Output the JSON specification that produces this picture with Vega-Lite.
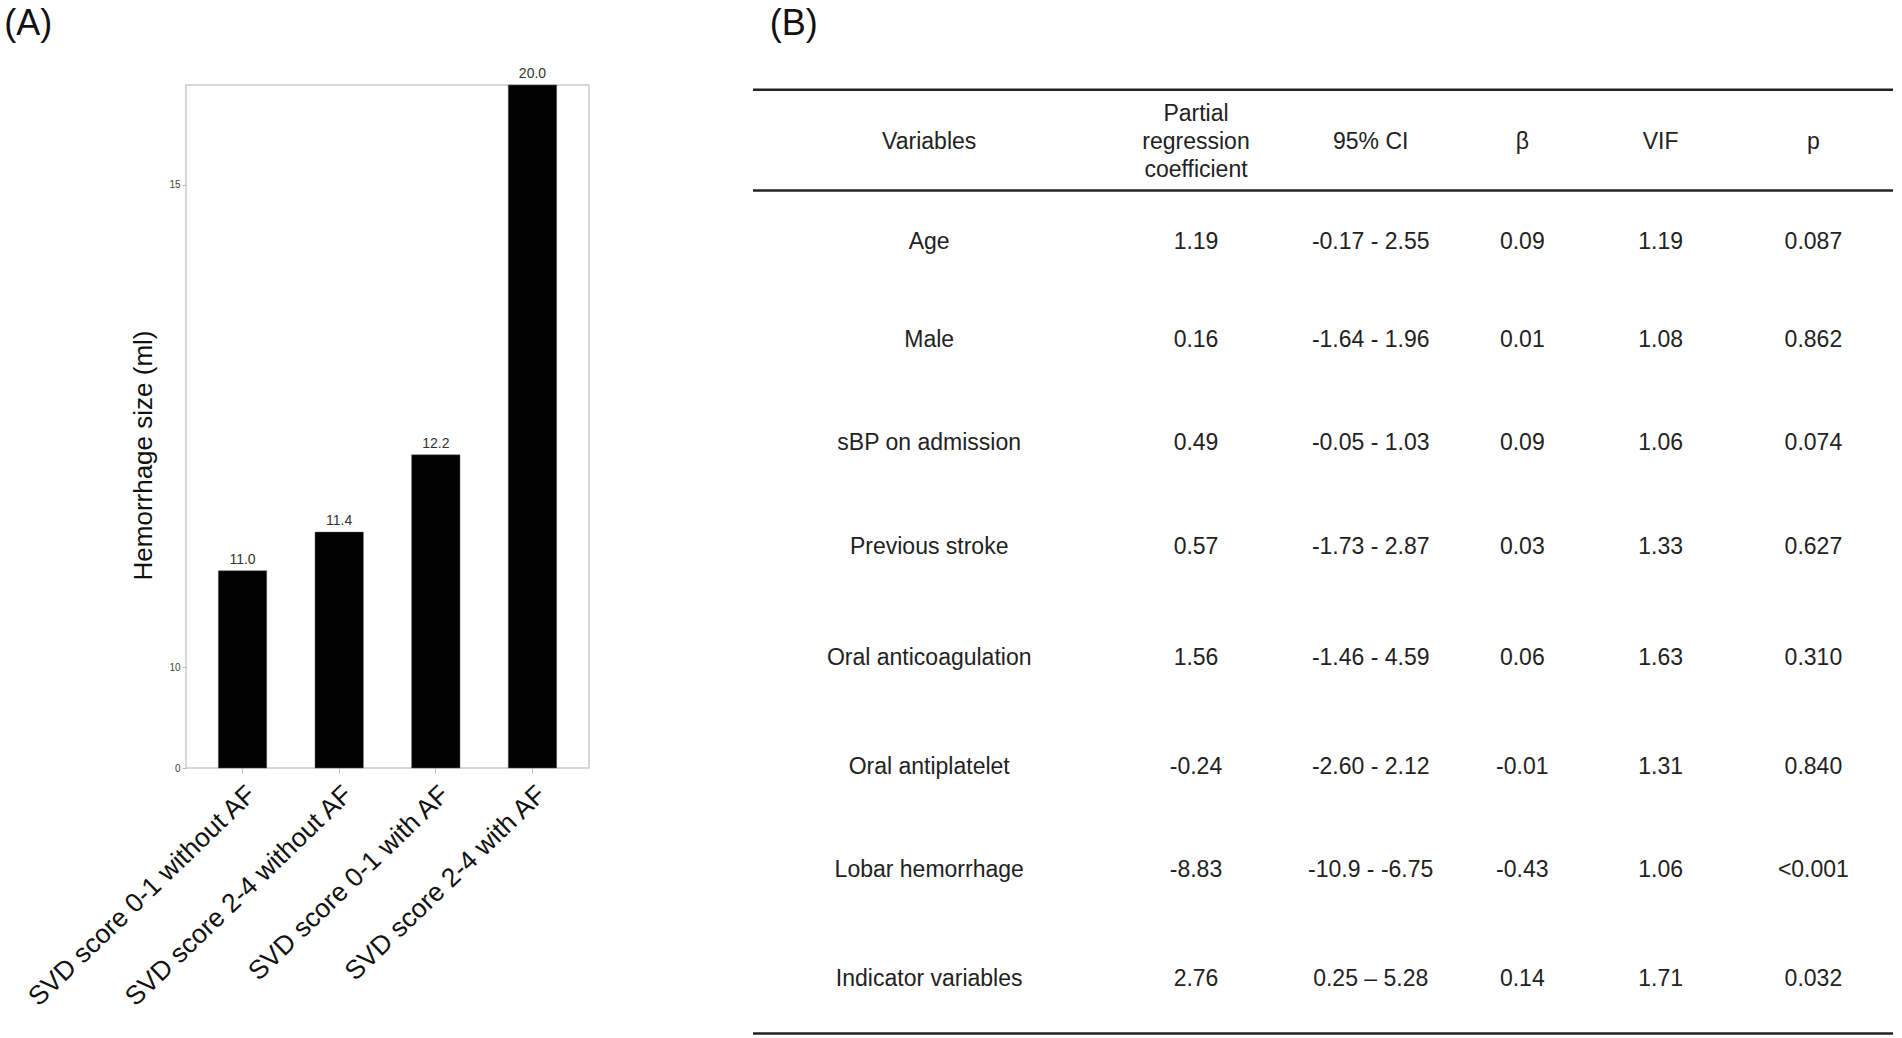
{
  "$schema": "https://vega.github.io/schema/vega-lite/v6.json",
  "padding": {"left": 3, "top": 5, "right": 0, "bottom": 0},
  "background": "white",
  "config": {
    "font": "Liberation Sans",
    "text": {"font": "Liberation Sans"},
    "title": {"font": "Liberation Sans", "fontWeight": "normal", "fontSize": 36, "color": "#111", "anchor": "start", "frame": "bounds"}
  },
  "datasets": {
    "bars": [
      {"group": "SVD score 0-1 without AF", "size": 11.0},
      {"group": "SVD score 2-4 without AF", "size": 11.4},
      {"group": "SVD score 0-1 with AF", "size": 12.2},
      {"group": "SVD score 2-4 with AF", "size": 20.0}
    ],
    "table": [
      {"row": 0, "variable": "Variables", "coef": "Partial\nregression\ncoefficient", "ci": "95% CI", "beta": "β", "vif": "VIF", "p": "p"},
      {"row": 1, "variable": "Age", "coef": "1.19", "ci": "-0.17 - 2.55", "beta": "0.09", "vif": "1.19", "p": "0.087"},
      {"row": 2, "variable": "Male", "coef": "0.16", "ci": "-1.64 - 1.96", "beta": "0.01", "vif": "1.08", "p": "0.862"},
      {"row": 3, "variable": "sBP on admission", "coef": "0.49", "ci": "-0.05 - 1.03", "beta": "0.09", "vif": "1.06", "p": "0.074"},
      {"row": 4, "variable": "Previous stroke", "coef": "0.57", "ci": "-1.73 - 2.87", "beta": "0.03", "vif": "1.33", "p": "0.627"},
      {"row": 5, "variable": "Oral anticoagulation", "coef": "1.56", "ci": "-1.46 - 4.59", "beta": "0.06", "vif": "1.63", "p": "0.310"},
      {"row": 6, "variable": "Oral antiplatelet", "coef": "-0.24", "ci": "-2.60 - 2.12", "beta": "-0.01", "vif": "1.31", "p": "0.840"},
      {"row": 7, "variable": "Lobar hemorrhage", "coef": "-8.83", "ci": "-10.9 - -6.75", "beta": "-0.43", "vif": "1.06", "p": "<0.001"},
      {"row": 8, "variable": "Indicator variables", "coef": "2.76", "ci": "0.25 – 5.28", "beta": "0.14", "vif": "1.71", "p": "0.032"}
    ],
    "lines": [{"row": -0.5}, {"row": 0.5}, {"row": 8.5}]
  },
  "hconcat": [
    {
      "title": {"text": "(A)", "offset": 24, "dx": -18.5},
      "width": 403,
      "height": 683,
      "view": {"stroke": "#cccccc", "strokeWidth": 1.5},
      "data": {"name": "bars"},
      "encoding": {
        "x": {
          "field": "group", "type": "nominal", "sort": null,
          "scale": {"paddingInner": 0.5, "paddingOuter": 0.335},
          "axis": {"title": null, "labelAngle": -44, "labelFontSize": 26.5, "labelColor": "#111", "labelFont": "Liberation Sans", "labelLimit": 0,
                   "domain": false, "tickColor": "#bbbbbb", "tickSize": 5, "labelPadding": 8}
        },
        "y": {
          "field": "size", "type": "quantitative",
          "scale": {"domain": [0, 10, 15, 20], "range": [683, 582.3, 99.5, 0], "nice": false, "zero": false},
          "axis": {"title": "Hemorrhage size (ml)", "titleFontSize": 26, "titleFontWeight": "normal", "titleColor": "#111", "titleFont": "Liberation Sans",
                   "titlePadding": 12, "titleY": 370, "values": [0, 10, 15], "labelFontSize": 10, "labelColor": "#444", "grid": false, "domain": false,
                   "tickColor": "#bbbbbb", "tickSize": 4, "labelPadding": 2}
        }
      },
      "layer": [
        {"mark": {"type": "bar", "color": "black", "stroke": "#555", "strokeWidth": 0.5}},
        {"mark": {"type": "text", "dy": -7, "baseline": "alphabetic", "fontSize": 14, "color": "#333"},
         "encoding": {"text": {"field": "size", "type": "quantitative", "format": ".1f"}}}
      ]
    },
    {
      "title": {"text": "(B)", "dx": 18, "offset": 24, "dy": -18},
      "width": 1140,
      "height": 948.6,
      "view": {"stroke": null},
      "layer": [
        {
          "data": {"name": "lines"},
          "mark": {"type": "rule", "color": "#222", "strokeWidth": 2.5},
          "encoding": {"y": {"field": "row", "type": "quantitative",
            "scale": {"domain": [-0.5, 0, 0.5, 1, 2, 3, 4, 5, 6, 7, 8, 8.5], "range": [4.8, 57, 105.5, 156.5, 254.7, 357.8, 462.2, 572.5, 681.7, 784.8, 894, 948.6], "nice": false, "zero": false},
            "axis": null}}
        },
        {
          "data": {"name": "table"},
          "encoding": {
            "y": {"field": "row", "type": "quantitative", "axis": null},
            "x": {"datum": 0, "type": "quantitative", "scale": {"domain": [0, 1, 2, 3, 4, 5], "range": [176.2, 443, 617.7, 769.3, 907.6, 1060.4], "nice": false, "zero": false}, "axis": null}
          },
          "layer": [
            {"mark": {"type": "text", "fontSize": 23, "color": "#222"}, "encoding": {"text": {"field": "variable"}, "x": {"datum": 0, "type": "quantitative"}}},
            {"transform": [{"filter": "datum.row > 0"}],
             "mark": {"type": "text", "fontSize": 23, "color": "#222"}, "encoding": {"text": {"field": "coef"}, "x": {"datum": 1, "type": "quantitative"}}},
            {"transform": [{"filter": "datum.row == 0"}],
             "mark": {"type": "text", "fontSize": 23, "color": "#222", "lineBreak": "\n", "lineHeight": 28, "dy": -28}, "encoding": {"text": {"field": "coef"}, "x": {"datum": 1, "type": "quantitative"}}},
            {"mark": {"type": "text", "fontSize": 23, "color": "#222"}, "encoding": {"text": {"field": "ci"}, "x": {"datum": 2, "type": "quantitative"}}},
            {"mark": {"type": "text", "fontSize": 23, "color": "#222"}, "encoding": {"text": {"field": "beta"}, "x": {"datum": 3, "type": "quantitative"}}},
            {"mark": {"type": "text", "fontSize": 23, "color": "#222"}, "encoding": {"text": {"field": "vif"}, "x": {"datum": 4, "type": "quantitative"}}},
            {"mark": {"type": "text", "fontSize": 23, "color": "#222"}, "encoding": {"text": {"field": "p"}, "x": {"datum": 5, "type": "quantitative"}}}
          ]
        }
      ]
    }
  ],
  "spacing": 161
}
